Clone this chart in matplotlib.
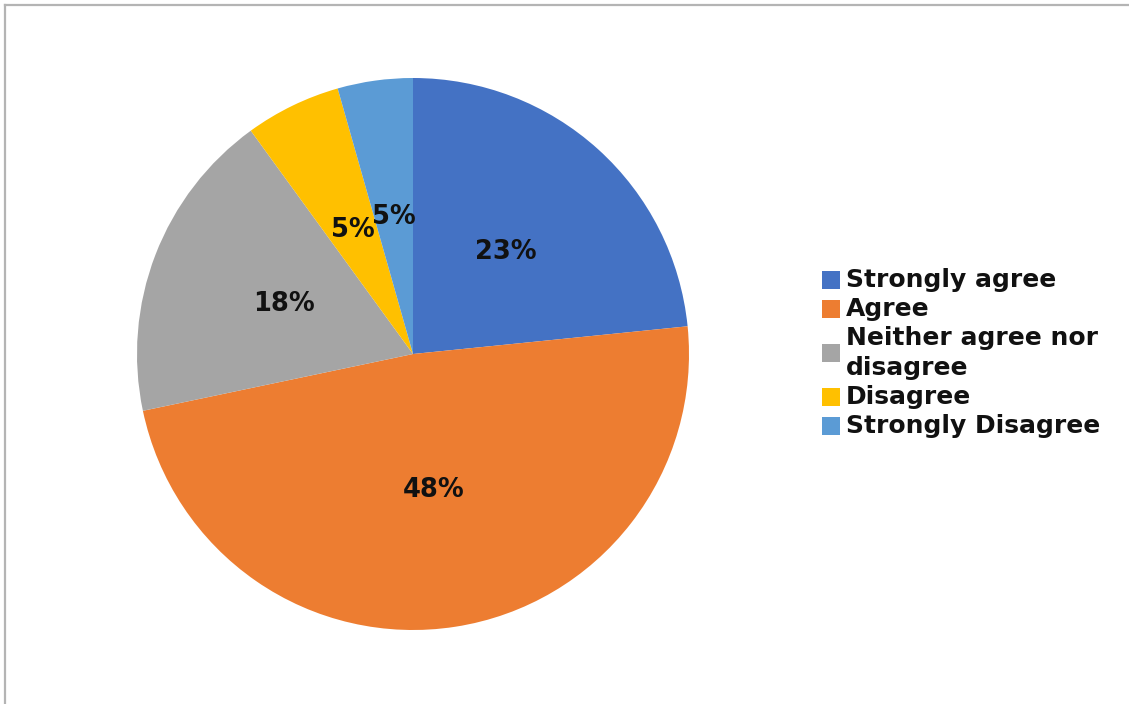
import matplotlib
matplotlib.use("Agg")
import numpy as np
import matplotlib.pyplot as plt
from matplotlib.lines import Line2D
from matplotlib.patches import Patch

categories = ["Strongly agree", "Agree", "Neither agree nor\ndisagree", "Disagree", "Strongly Disagree"]
shares = [23.4, 48.3, 18.3, 5.6, 4.4]
pct_labels = ["23%", "48%", "18%", "5%", "5%"]
colors = ["#4472C4", "#ED7D31", "#A5A5A5", "#FFC000", "#5B9BD5"]

W, H = 1129, 704
fig = plt.figure(figsize=(W / 100, H / 100), dpi=100)
fig.patch.set_facecolor("white")

cx, cy, r = 413, 354, 276
ax = fig.add_axes([(cx - r) / W, (H - cy - r) / H, 2 * r / W, 2 * r / H])
wedges, _ = ax.pie(shares, colors=colors, startangle=90, counterclock=False,
                   radius=1.0, wedgeprops=dict(linewidth=0))
for w, lab in zip(wedges, pct_labels):
    ang = np.deg2rad((w.theta1 + w.theta2) / 2)
    ax.text(0.5 * np.cos(ang), 0.5 * np.sin(ang), lab, ha="center", va="center",
            fontsize=18.5, fontweight="heavy", color="#111111", family="DejaVu Sans")
ax.set_xlim(-1, 1)
ax.set_ylim(-1, 1)
ax.set_aspect("equal")
ax.axis("off")

handles = [Patch(facecolor=c, edgecolor="none") for c in colors]
leg = fig.legend(handles, categories, loc="upper left",
                 bbox_to_anchor=(822 / W, 1 - 268 / H), frameon=False,
                 prop=dict(family="DejaVu Sans", weight="heavy", size=18),
                 handlelength=0.72, handleheight=0.72, handletextpad=0.25,
                 labelspacing=0.2, borderpad=0, borderaxespad=0)
for t in leg.get_texts():
    t.set_color("#111111")
    t.set_linespacing(1.3)
# centre the handles vertically on multi-line labels
for col in leg._legend_handle_box.get_children():
    for item in col.get_children():
        item.align = "center"

# border lines (top and left)
fig.add_artist(Line2D([4.5 / W, 1], [1 - 4.5 / H, 1 - 4.5 / H], transform=fig.transFigure,
                      color="#b4b4b4", linewidth=1.6))
fig.add_artist(Line2D([4.5 / W, 4.5 / W], [0, 1 - 4.5 / H], transform=fig.transFigure,
                      color="#b4b4b4", linewidth=1.6))

fig.savefig("out.png", dpi=100, facecolor="white")
